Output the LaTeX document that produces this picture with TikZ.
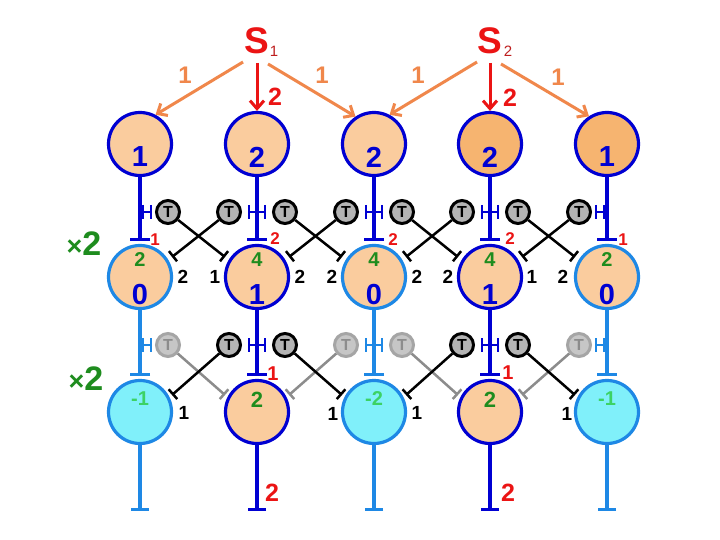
\documentclass[tikz,border=0pt]{standalone}
\usepackage{fontspec}
\setmainfont{Liberation Sans}
\usetikzlibrary{arrows.meta}
\definecolor{dblue}{RGB}{0,0,210}
\definecolor{lblue}{RGB}{30,136,229}
\definecolor{peach}{RGB}{250,204,158}
\definecolor{orangefill}{RGB}{246,180,112}
\definecolor{cyanfill}{RGB}{128,240,250}
\definecolor{dgreen}{RGB}{30,140,30}
\definecolor{lgreen}{RGB}{60,210,100}
\definecolor{myred}{RGB}{235,20,20}
\definecolor{darkred}{RGB}{190,30,30}
\definecolor{arrorange}{RGB}{240,135,75}
\definecolor{tgray}{RGB}{180,180,180}
\definecolor{fgray}{RGB}{198,198,198}
\definecolor{lgray}{RGB}{140,140,140}
\definecolor{bgray}{RGB}{165,165,165}
\newcommand\fs[1]{\fontsize{#1}{#1}\selectfont\bfseries}
% H mark: bars at x+#3 and x+#4, joined by a horizontal line
\newcommand\hmk[5]{%
  \draw[#5, line width=2.6pt] ({#1+(#3)},#2) -- ({#1+(#4)},#2)
    ({#1+(#3)},{#2-7}) -- ({#1+(#3)},{#2+7})
    ({#1+(#4)},{#2-7}) -- ({#1+(#4)},{#2+7});}
\begin{document}
\begin{tikzpicture}[x=1pt,y=-1pt,
  cell/.style={circle, minimum size=63pt, inner sep=0pt, line width=3.2pt},
  num/.style={inner sep=0pt, text=dblue, font={\fs{29}}},
  gnum/.style={inner sep=0pt, text=dgreen, font={\fs{20}}},
  lnum/.style={inner sep=0pt, text=lgreen, font={\fs{20}}},
  tnode/.style={circle, minimum size=23pt, inner sep=0pt, fill=tgray, draw=black, line width=3pt, font={\fs{16}}},
  tfade/.style={tnode, fill=fgray, draw=bgray, text=lgray},
  stemline/.style={line width=3.5pt, -{Bar[width=20pt]}},
  cross/.style={line width=2.5pt, -{Bar[width=13pt]}},
  crossf/.style={cross, draw=lgray},
  lbl/.style={inner sep=0pt, font={\fs{19}}},
  rlbl/.style={inner sep=0pt, text=myred, font={\fs{17}}},
  olbl/.style={inner sep=0pt, text=arrorange, font={\fs{24}}},
  oarr/.style={draw=arrorange, line width=3pt, -{Straight Barb[length=8pt,width=14pt]}},
  rarr/.style={draw=myred, line width=3pt, -{Straight Barb[length=8pt,width=14pt]}}
]
\fill[white] (0,0) rectangle (720,540);
\useasboundingbox (0,0) rectangle (720,540);

% ---------- top sources
\node[inner sep=0pt, text=myred, font={\fs{37}}] (S1) at (257,41) {S};
\node[inner sep=0pt, text=darkred, font=\fontsize{15}{15}\selectfont] (S1sub) at (274,51) {1};
\node[inner sep=0pt, text=myred, font={\fs{37}}] (S2) at (490,41) {S};
\node[inner sep=0pt, text=darkred, font=\fontsize{15}{15}\selectfont] (S2sub) at (508,51) {2};
\coordinate (s1l) at (243,62);
\coordinate (s1d) at (257,63);
\coordinate (s1r) at (268,64);
\coordinate (s2l) at (477,62);
\coordinate (s2d) at (490,63);
\coordinate (s2r) at (501,64);

% ---------- row 1
\node[cell, draw=dblue, fill=peach] (a1) at (140,144) {};
\node[cell, draw=dblue, fill=peach] (a2) at (257,144) {};
\node[cell, draw=dblue, fill=peach] (a3) at (374,144) {};
\node[cell, draw=dblue, fill=orangefill] (a4) at (490,144) {};
\node[cell, draw=dblue, fill=orangefill] (a5) at (607,144) {};
\node[num] (na1) at (140,157) {1};
\node[num] (na2) at (257,157) {2};
\node[num] (na3) at (374,157) {2};
\node[num] (na4) at (490,157) {2};
\node[num] (na5) at (607,157) {1};

\draw[oarr] (s1l) -- (a1.62);
\draw[rarr] (s1d) -- (a2.north);
\draw[oarr] (s1r) -- (a3.124);
\draw[oarr] (s2l) -- (a3.62);
\draw[rarr] (s2d) -- (a4.north);
\draw[oarr] (s2r) -- (a5.123);
\node[olbl] (o1) at (185,75) {1};
\node[olbl] (o2) at (322,75) {1};
\node[olbl] (o3) at (418,75) {1};
\node[olbl] (o4) at (558,77) {1};
\node[inner sep=0pt, text=myred, font={\fs{25}}] (r1) at (275,97) {2};
\node[inner sep=0pt, text=myred, font={\fs{25}}] (r2) at (510,98) {2};

% ---------- row 2
\node[cell, draw=lblue, fill=peach] (b1) at (140,277) {};
\node[cell, draw=dblue, fill=peach] (b2) at (257,277) {};
\node[cell, draw=lblue, fill=peach] (b3) at (374,277) {};
\node[cell, draw=dblue, fill=peach] (b4) at (490,277) {};
\node[cell, draw=lblue, fill=peach] (b5) at (607,277) {};
\node[gnum] (gb1) at (140,260) {2};
\node[gnum] (gb2) at (257,260) {4};
\node[gnum] (gb3) at (374,260) {4};
\node[gnum] (gb4) at (490,260) {4};
\node[gnum] (gb5) at (607,260) {2};
\node[num] (nb1) at (140,295) {0};
\node[num] (nb2) at (257,295) {1};
\node[num] (nb3) at (374,295) {0};
\node[num] (nb4) at (490,295) {1};
\node[num] (nb5) at (607,295) {0};

% ---------- row 3
\node[cell, draw=lblue, fill=cyanfill] (c1) at (140,412) {};
\node[cell, draw=dblue, fill=peach] (c2) at (257,412) {};
\node[cell, draw=lblue, fill=cyanfill] (c3) at (374,412) {};
\node[cell, draw=dblue, fill=peach] (c4) at (490,412) {};
\node[cell, draw=lblue, fill=cyanfill] (c5) at (607,412) {};
\node[lnum] (gc1) at (140,399) {-1};
\node[gnum, font={\fs{22}}] (gc2) at (257,400) {2};
\node[lnum] (gc3) at (374,399) {-2};
\node[gnum, font={\fs{22}}] (gc4) at (490,400) {2};
\node[lnum] (gc5) at (607,399) {-1};

% ---------- stems
\coordinate (sa1) at (140,241); \coordinate (sa2) at (257,241);
\coordinate (sa3) at (374,241); \coordinate (sa4) at (490,241);
\coordinate (sa5) at (607,241);
\coordinate (sb1) at (140,376); \coordinate (sb2) at (257,376);
\coordinate (sb3) at (374,376); \coordinate (sb4) at (490,376);
\coordinate (sb5) at (607,376);
\coordinate (sc1) at (140,511); \coordinate (sc2) at (257,511);
\coordinate (sc3) at (374,511); \coordinate (sc4) at (490,511);
\coordinate (sc5) at (607,511);
\draw[stemline, dblue] (a1) -- (sa1);
\draw[stemline, dblue] (a2) -- (sa2);
\draw[stemline, dblue] (a3) -- (sa3);
\draw[stemline, dblue] (a4) -- (sa4);
\draw[stemline, dblue] (a5) -- (sa5);
\draw[stemline, lblue] (b1) -- (sb1);
\draw[stemline, dblue] (b2) -- (sb2);
\draw[stemline, lblue] (b3) -- (sb3);
\draw[stemline, dblue] (b4) -- (sb4);
\draw[stemline, lblue] (b5) -- (sb5);
\draw[stemline, lblue, -{Bar[width=18pt]}] (c1) -- (sc1);
\draw[stemline, dblue, -{Bar[width=18pt]}] (c2) -- (sc2);
\draw[stemline, lblue, -{Bar[width=18pt]}] (c3) -- (sc3);
\draw[stemline, dblue, -{Bar[width=18pt]}] (c4) -- (sc4);
\draw[stemline, lblue, -{Bar[width=18pt]}] (c5) -- (sc5);

% H marks
\hmk{140}{212}{3}{11}{dblue}
\hmk{257}{212}{-8}{8}{dblue}
\hmk{374}{212}{-8}{8}{dblue}
\hmk{490}{212}{-8}{8}{dblue}
\hmk{607}{212}{-11}{-3}{dblue}
\hmk{140}{345}{3}{11}{lblue}
\hmk{257}{345}{-8}{8}{dblue}
\hmk{374}{345}{-8}{8}{lblue}
\hmk{490}{345}{-8}{8}{dblue}
\hmk{607}{345}{-11}{-3}{lblue}

% ---------- T nodes row 1
\node[tnode] (ta1R) at (168,212) {T};
\node[tnode] (ta2L) at (229,212) {T};
\node[tnode] (ta2R) at (285,212) {T};
\node[tnode] (ta3L) at (346,212) {T};
\node[tnode] (ta3R) at (402,212) {T};
\node[tnode] (ta4L) at (462,212) {T};
\node[tnode] (ta4R) at (518,212) {T};
\node[tnode] (ta5L) at (579,212) {T};
% ---------- T nodes row 2
\node[tfade] (tb1R) at (168,345) {T};
\node[tnode] (tb2L) at (229,345) {T};
\node[tnode] (tb2R) at (285,345) {T};
\node[tfade] (tb3L) at (346,345) {T};
\node[tfade] (tb3R) at (402,345) {T};
\node[tnode] (tb4L) at (462,345) {T};
\node[tnode] (tb4R) at (518,345) {T};
\node[tfade] (tb5L) at (579,345) {T};

% ---------- cross connectors row 1 -> row 2
\coordinate (eb1R) at (172,257); \coordinate (eb2L) at (225,257);
\coordinate (eb2R) at (289,257); \coordinate (eb3L) at (342,257);
\coordinate (eb3R) at (406,257); \coordinate (eb4L) at (458,257);
\coordinate (eb4R) at (522,257); \coordinate (eb5L) at (575,257);
\draw[cross] (ta1R) -- (eb2L);
\draw[cross] (ta2L) -- (eb1R);
\draw[cross] (ta2R) -- (eb3L);
\draw[cross] (ta3L) -- (eb2R);
\draw[cross] (ta3R) -- (eb4L);
\draw[cross] (ta4L) -- (eb3R);
\draw[cross] (ta4R) -- (eb5L);
\draw[cross] (ta5L) -- (eb4R);
\node[lbl] (lb1) at (183,277) {2};
\node[lbl] (lb2) at (215,277) {1};
\node[lbl] (lb3) at (300,277) {2};
\node[lbl] (lb4) at (332,277) {2};
\node[lbl] (lb5) at (417,277) {2};
\node[lbl] (lb6) at (448,277) {2};
\node[lbl] (lb7) at (532,277) {1};
\node[lbl] (lb8) at (563,277) {2};
\node[rlbl] (rb1) at (155,240) {1};
\node[rlbl] (rb2) at (275,239) {2};
\node[rlbl] (rb3) at (393,240) {2};
\node[rlbl] (rb4) at (510,239) {2};
\node[rlbl] (rb5) at (623,240) {1};

% ---------- cross connectors row 2 -> row 3
\coordinate (ec1R) at (172,395); \coordinate (ec2L) at (225,395);
\coordinate (ec2R) at (289,395); \coordinate (ec3L) at (342,395);
\coordinate (ec3R) at (406,395); \coordinate (ec4L) at (458,395);
\coordinate (ec4R) at (522,395); \coordinate (ec5L) at (575,395);
\draw[crossf] (tb1R) -- (ec2L);
\draw[crossf] (tb3L) -- (ec2R);
\draw[crossf] (tb3R) -- (ec4L);
\draw[crossf] (tb5L) -- (ec4R);
\draw[cross] (tb2L) -- (ec1R);
\draw[cross] (tb2R) -- (ec3L);
\draw[cross] (tb4L) -- (ec3R);
\draw[cross] (tb4R) -- (ec5L);
\node[lbl] (lc1) at (184,413) {1};
\node[lbl] (lc2) at (333,414) {1};
\node[lbl] (lc3) at (417,413) {1};
\node[lbl] (lc4) at (567,414) {1};
\node[rlbl, font={\fs{20}}] (rc2) at (273,374) {1};
\node[rlbl, font={\fs{20}}] (rc4) at (508,373) {1};

% bottom labels
\node[inner sep=0pt, text=myred, font={\fs{25}}] (rd2) at (272,493) {2};
\node[inner sep=0pt, text=myred, font={\fs{25}}] (rd4) at (508,493) {2};

% x2 labels
\node[inner sep=0pt, text=dgreen] (x2a) at (84,244) {\fs{27}×\fs{34}2};
\node[inner sep=0pt, text=dgreen] (x2b) at (86,379) {\fs{27}×\fs{34}2};
\end{tikzpicture}
\end{document}
